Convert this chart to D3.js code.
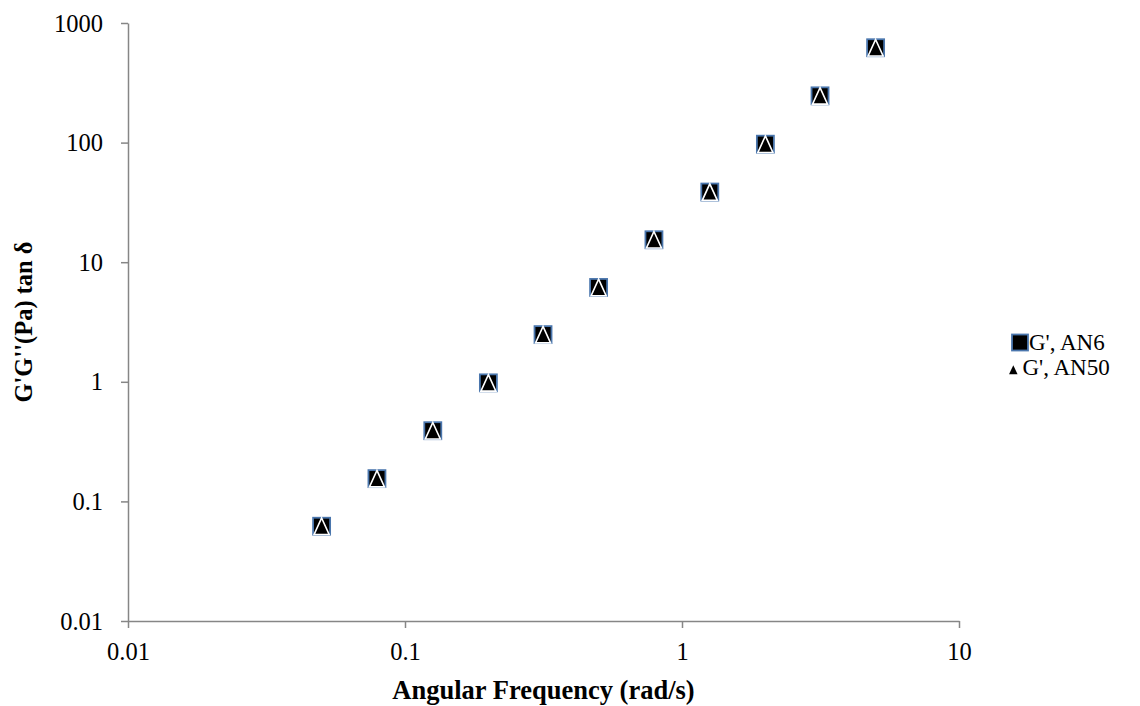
<!DOCTYPE html>
<html>
<head>
<meta charset="utf-8">
<script src="https://cdn.jsdelivr.net/npm/d3@7"></script>
<style>
  html, body { margin: 0; padding: 0; background: #fff; }
  svg { display: block; font-family: "Liberation Serif", "Times New Roman", serif; }
</style>
</head>
<body>
<svg id="chart" width="1140" height="706"></svg>
<script>
// Angular frequency sweep (rad/s)
const frequency = [0.05, 0.0792, 0.126, 0.2, 0.315, 0.5, 0.792, 1.26, 2, 3.15, 5];
// G' values for each sample (Pa)
const gAN6  = [0.062, 0.155, 0.39, 0.98, 2.48, 6.15, 15.4, 38.6, 97, 246, 621];
const gAN50 = [0.062, 0.155, 0.39, 0.98, 2.48, 6.15, 15.4, 38.6, 97, 246, 621];
const seriesNames = ["G', AN6", "G', AN50"];
const xTicks = [0.01, 0.1, 1, 10];
const yTicks = [0.01, 0.1, 1, 10, 100, 1000];

const svg = d3.select("#chart");
const axisColor = "#868686";
const serif = "Liberation Serif, Times New Roman, serif";

const x = d3.scaleLog().domain([0.01, 10]).range([128, 959]);
const y = d3.scaleLog().domain([0.01, 1000]).range([621, 23]);
const fmt = d => String(+d.toPrecision(6));

// Y axis
const yAxis = svg.append("g")
  .attr("transform", "translate(128,0)")
  .call(d3.axisLeft(y).tickValues(yTicks).tickFormat(fmt).tickSize(7).tickPadding(18).tickSizeOuter(0));
yAxis.select(".domain").attr("stroke", axisColor).attr("stroke-width", 1.5);
yAxis.selectAll(".tick line").attr("stroke", axisColor).attr("stroke-width", 1.5);
yAxis.selectAll(".tick text").attr("font-size", 24.5).attr("fill", "#000")
  .attr("font-family", serif).attr("dy", "0.33em");

// X axis
const xAxis = svg.append("g")
  .attr("transform", "translate(0,621)")
  .call(d3.axisBottom(x).tickValues(xTicks).tickFormat(fmt).tickSize(7).tickPadding(15).tickSizeOuter(0));
xAxis.select(".domain").attr("stroke", axisColor).attr("stroke-width", 1.5);
xAxis.selectAll(".tick line").attr("stroke", axisColor).attr("stroke-width", 1.5);
xAxis.selectAll(".tick text").attr("font-size", 24.5).attr("fill", "#000")
  .attr("font-family", serif).attr("dy", "0.71em");

// Axis titles
svg.append("text")
  .attr("x", (128 + 959) / 2).attr("y", 699)
  .attr("text-anchor", "middle").attr("font-size", 26.5).attr("font-weight", "bold")
  .text("Angular Frequency (rad/s)");

svg.append("text")
  .attr("transform", `translate(32,${(23 + 621) / 2}) rotate(-90)`)
  .attr("text-anchor", "middle").attr("font-size", 24.5).attr("font-weight", "bold")
  .text("G'G''(Pa) tan δ");

// Square markers (AN6)
const sq = 17;
svg.append("g").selectAll("rect")
  .data(frequency.map((f, i) => [f, gAN6[i]]))
  .join("rect")
  .attr("x", d => x(d[0]) - sq / 2)
  .attr("y", d => y(d[1]) - sq / 2)
  .attr("width", sq).attr("height", sq)
  .attr("fill", "#000").attr("stroke", "#4a76ad").attr("stroke-width", 1.8);

// Triangle markers (AN50): apex on the top edge, base on the bottom edge
const triPath = (w, h) => `M0,${-h / 2}L${w / 2},${h / 2}L${-w / 2},${h / 2}Z`;
svg.append("g").selectAll("path")
  .data(frequency.map((f, i) => [f, gAN50[i]]))
  .join("path")
  .attr("d", triPath(15, 16.5))
  .attr("transform", d => `translate(${x(d[0])},${y(d[1])})`)
  .attr("fill", "#000").attr("stroke", "#fff").attr("stroke-width", 1.6)
  .attr("stroke-linejoin", "miter");

// Legend
const legend = svg.append("g");
legend.append("rect")
  .attr("x", 1012).attr("y", 334.5).attr("width", 16).attr("height", 16)
  .attr("fill", "#000").attr("stroke", "#4a76ad").attr("stroke-width", 1.8);
legend.append("text").attr("x", 1029).attr("y", 349.5).attr("font-size", 23).text(seriesNames[0]);
legend.append("path")
  .attr("d", triPath(8.5, 9))
  .attr("transform", "translate(1013.3,369.8)")
  .attr("fill", "#000");
legend.append("text").attr("x", 1022.5).attr("y", 375).attr("font-size", 23).text(seriesNames[1]);
</script>
</body>
</html>
